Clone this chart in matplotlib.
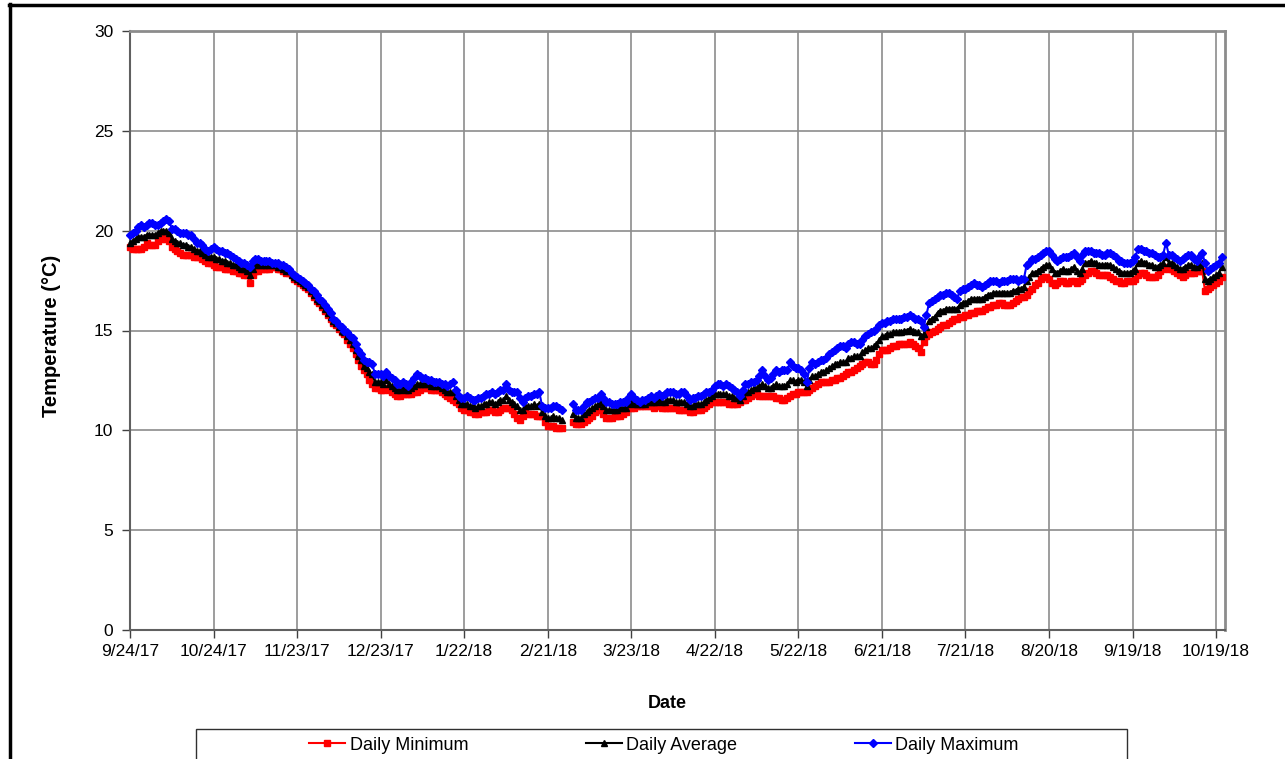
import numpy as np
import matplotlib
matplotlib.use("Agg")
import matplotlib.pyplot as plt
from matplotlib.lines import Line2D
from matplotlib.patches import Rectangle

nan = float("nan")

start_date = "2017-09-24"
tick_labels = ["9/24/17", "10/24/17", "11/23/17", "12/23/17", "1/22/18", "2/21/18",
               "3/23/18", "4/22/18", "5/22/18", "6/21/18", "7/21/18", "8/20/18",
               "9/19/18", "10/19/18"]
y_ticks = [0, 5, 10, 15, 20, 25, 30]

daily_max = [
    19.8, 19.9, 20.0, 20.2, 20.3, 20.2, 20.3, 20.4, 20.4, 20.3,
    20.3, 20.4, 20.5, 20.6, 20.5, 20.1, 20.1, 20.0, 19.9, 19.9,
    19.9, 19.8, 19.8, 19.6, 19.4, 19.4, 19.3, 19.1, 19.0, 19.1,
    19.2, 19.1, 19.0, 19.0, 18.9, 18.9, 18.8, 18.7, 18.6, 18.5,
    18.4, 18.4, 18.3, 18.2, 18.5, 18.6, 18.6, 18.5, 18.5, 18.5,
    18.5, 18.4, 18.4, 18.4, 18.3, 18.3, 18.2, 18.1, 17.9, 17.8,
    17.7, 17.6, 17.5, 17.4, 17.3, 17.1, 17.0, 16.8, 16.6, 16.5,
    16.3, 16.1, 15.9, 15.6, 15.5, 15.3, 15.2, 15.0, 14.9, 14.7,
    14.6, 14.3, 14.0, 13.8, 13.5, 13.4, 13.4, 13.3, 12.8, 12.8,
    12.8, 12.7, 12.9, 12.7, 12.6, 12.5, 12.3, 12.3, 12.4, 12.3,
    12.2, 12.4, 12.6, 12.8, 12.7, 12.6, 12.6, 12.5, 12.5, 12.4,
    12.4, 12.4, 12.3, 12.3, 12.2, 12.3, 12.4, 12.0, 11.7, 11.6,
    11.6, 11.7, 11.6, 11.5, 11.5, 11.6, 11.6, 11.7, 11.8, 11.8,
    11.9, 11.8, 11.9, 12.0, 12.0, 12.3, 12.0, 11.9, 11.9, 11.9,
    11.6, 11.4, 11.6, 11.7, 11.7, 11.8, 11.8, 11.9, 11.2, 11.1,
    11.1, 11.1, 11.2, 11.2, 11.1, 11.0, nan, nan, nan, 11.3,
    11.0, 11.0, 11.0, 11.2, 11.4, 11.4, 11.5, 11.6, 11.6, 11.8,
    11.6, 11.4, 11.4, 11.3, 11.3, 11.3, 11.4, 11.4, 11.4, 11.6,
    11.8, 11.6, 11.5, 11.4, 11.5, 11.5, 11.6, 11.7, 11.6, 11.7,
    11.8, 11.7, 11.8, 11.9, 11.9, 11.9, 11.8, 11.8, 11.9, 11.9,
    11.7, 11.5, 11.6, 11.6, 11.7, 11.7, 11.8, 11.9, 11.9, 12.0,
    12.2, 12.3, 12.3, 12.2, 12.3, 12.2, 12.1, 12.0, 11.9, 11.7,
    12.0, 12.3, 12.3, 12.4, 12.4, 12.5, 12.7, 13.0, 12.7, 12.5,
    12.6, 12.8, 13.0, 12.9, 13.0, 13.0, 13.0, 13.4, 13.2, 13.1,
    13.1, 13.0, 12.8, 12.4, 13.1, 13.4, 13.3, 13.4, 13.5, 13.5,
    13.6, 13.8, 13.9, 14.0, 14.1, 14.2, 14.2, 14.1, 14.3, 14.4,
    14.4, 14.3, 14.3, 14.5, 14.7, 14.8, 14.9, 15.0, 15.1, 15.3,
    15.4, 15.4, 15.5, 15.5, 15.6, 15.6, 15.6, 15.6, 15.7, 15.7,
    15.8, 15.7, 15.6, 15.6, 15.5, 15.2, 15.8, 16.4, 16.5, 16.6,
    16.7, 16.8, 16.8, 16.9, 16.9, 16.8, 16.7, 16.6, 17.0, 17.1,
    17.1, 17.2, 17.3, 17.4, 17.3, 17.3, 17.2, 17.3, 17.4, 17.5,
    17.5, 17.5, 17.4, 17.5, 17.5, 17.5, 17.6, 17.6, 17.6, 17.5,
    17.6, 17.6, 18.3, 18.4, 18.6, 18.6, 18.7, 18.8, 18.9, 19.0,
    19.0, 18.8, 18.6, 18.5, 18.6, 18.7, 18.7, 18.7, 18.8, 18.9,
    18.7, 18.5, 18.8, 19.0, 19.0, 19.0, 18.9, 18.9, 18.9, 18.8,
    18.8, 18.9, 18.9, 18.8, 18.7, 18.5, 18.5, 18.4, 18.4, 18.4,
    18.5, 18.7, 19.1, 19.1, 19.0, 19.0, 18.9, 18.9, 18.8, 18.7,
    18.7, 18.8, 19.4, 18.8, 18.8, 18.7, 18.6, 18.5, 18.6, 18.7,
    18.8, 18.8, 18.6, 18.5, 18.7, 18.9, 18.4, 18.0, 18.1, 18.2,
    18.3, 18.4, 18.7,
]

daily_min = [
    19.2, 19.1, 19.1, 19.1, 19.1, 19.2, 19.4, 19.3, 19.3, 19.3,
    19.5, 19.6, 19.7, 19.6, 19.5, 19.2, 19.1, 19.0, 18.9, 18.8,
    18.8, 18.8, 18.8, 18.7, 18.7, 18.7, 18.6, 18.5, 18.4, 18.4,
    18.3, 18.2, 18.2, 18.2, 18.1, 18.1, 18.1, 18.0, 18.0, 17.9,
    17.9, 17.8, 17.8, 17.4, 17.8, 18.0, 18.0, 18.1, 18.1, 18.1,
    18.1, 18.2, 18.2, 18.1, 18.1, 18.0, 17.9, 17.9, 17.8, 17.6,
    17.5, 17.4, 17.3, 17.2, 17.1, 16.9, 16.7, 16.5, 16.4, 16.2,
    16.0, 15.8, 15.6, 15.4, 15.3, 15.1, 14.9, 14.8, 14.5, 14.3,
    14.1, 13.8, 13.5, 13.2, 13.0, 12.8, 12.5, 12.3, 12.1, 12.1,
    12.0, 12.0, 12.1, 12.0, 11.9, 11.8, 11.7, 11.7, 11.8, 11.8,
    11.8, 11.8, 11.9, 11.9, 12.0, 12.1, 12.1, 12.1, 12.0, 12.0,
    12.0, 12.0, 11.9, 11.8, 11.7, 11.6, 11.5, 11.4, 11.3, 11.1,
    11.0, 11.0, 10.9, 10.9, 10.8, 10.8, 10.9, 10.9, 10.9, 11.0,
    11.0, 10.9, 10.9, 11.0, 11.1, 11.1, 11.1, 11.0, 10.8, 10.6,
    10.5, 10.7, 10.9, 10.8, 10.8, 10.8, 10.7, 10.7, 10.7, 10.4,
    10.2, 10.2, 10.2, 10.1, 10.1, 10.1, nan, nan, nan, 10.4,
    10.3, 10.3, 10.3, 10.4, 10.5, 10.6, 10.7, 10.9, 11.0, 11.0,
    10.8, 10.6, 10.6, 10.6, 10.7, 10.7, 10.7, 10.8, 10.9, 11.1,
    11.1, 11.1, 11.2, 11.2, 11.2, 11.2, 11.2, 11.2, 11.1, 11.2,
    11.2, 11.1, 11.1, 11.1, 11.1, 11.1, 11.1, 11.0, 11.0, 11.0,
    11.0, 10.9, 10.9, 11.0, 11.0, 11.0, 11.1, 11.2, 11.3, 11.4,
    11.4, 11.4, 11.4, 11.4, 11.4, 11.3, 11.3, 11.3, 11.3, 11.4,
    11.5, 11.5, 11.6, 11.7, 11.8, 11.8, 11.7, 11.7, 11.7, 11.7,
    11.7, 11.7, 11.6, 11.6, 11.5, 11.5, 11.6, 11.7, 11.8, 11.8,
    11.9, 11.9, 11.9, 11.9, 12.0, 12.1, 12.2, 12.3, 12.4, 12.4,
    12.4, 12.4, 12.5, 12.5, 12.6, 12.6, 12.7, 12.8, 12.9, 12.9,
    13.0, 13.1, 13.2, 13.3, 13.4, 13.4, 13.3, 13.3, 13.5, 13.8,
    14.0, 14.0, 14.0, 14.1, 14.2, 14.2, 14.3, 14.3, 14.3, 14.3,
    14.4, 14.3, 14.2, 14.1, 13.9, 14.4, 14.7, 14.8, 14.9, 15.0,
    15.1, 15.2, 15.3, 15.3, 15.4, 15.5, 15.6, 15.6, 15.7, 15.7,
    15.8, 15.8, 15.9, 15.9, 16.0, 16.0, 16.0, 16.1, 16.2, 16.2,
    16.3, 16.3, 16.4, 16.4, 16.3, 16.3, 16.3, 16.4, 16.5, 16.6,
    16.7, 16.7, 16.8, 17.0, 17.1, 17.3, 17.4, 17.6, 17.7, 17.7,
    17.6, 17.4, 17.3, 17.4, 17.5, 17.5, 17.4, 17.4, 17.5, 17.5,
    17.4, 17.5, 17.6, 17.8, 17.9, 18.0, 18.0, 17.9, 17.8, 17.8,
    17.8, 17.8, 17.7, 17.6, 17.5, 17.5, 17.4, 17.4, 17.5, 17.5,
    17.5, 17.6, 17.8, 17.9, 17.9, 17.8, 17.7, 17.7, 17.7, 17.8,
    18.0, 18.1, 18.2, 18.1, 18.1, 18.0, 17.9, 17.8, 17.7, 17.8,
    17.9, 17.9, 17.9, 18.0, 18.0, 18.0, 17.0, 17.1, 17.2, 17.3,
    17.4, 17.5, 17.7,
]

daily_avg = [
    19.4, 19.5, 19.6, 19.7, 19.7, 19.7, 19.8, 19.8, 19.8, 19.8,
    19.9, 20.0, 20.0, 20.0, 19.9, 19.6, 19.5, 19.4, 19.4, 19.3,
    19.3, 19.2, 19.2, 19.1, 19.0, 19.0, 18.9, 18.8, 18.7, 18.7,
    18.7, 18.6, 18.6, 18.5, 18.5, 18.4, 18.4, 18.3, 18.3, 18.2,
    18.1, 18.1, 18.0, 17.8, 18.1, 18.3, 18.3, 18.3, 18.3, 18.3,
    18.3, 18.3, 18.3, 18.2, 18.2, 18.1, 18.0, 18.0, 17.8, 17.7,
    17.6, 17.5, 17.4, 17.3, 17.2, 17.0, 16.8, 16.6, 16.5, 16.3,
    16.1, 15.9, 15.7, 15.5, 15.4, 15.2, 15.0, 14.9, 14.7, 14.5,
    14.3, 14.0, 13.7, 13.5, 13.2, 13.1, 12.9, 12.8, 12.4, 12.4,
    12.4, 12.3, 12.5, 12.3, 12.2, 12.1, 12.0, 12.0, 12.1, 12.0,
    12.0, 12.1, 12.2, 12.3, 12.3, 12.3, 12.3, 12.3, 12.2, 12.2,
    12.2, 12.2, 12.1, 12.0, 11.9, 11.9, 11.9, 11.7, 11.5, 11.3,
    11.3, 11.3, 11.2, 11.2, 11.1, 11.2, 11.2, 11.3, 11.3, 11.4,
    11.4, 11.3, 11.4, 11.5, 11.5, 11.7, 11.5, 11.4, 11.3, 11.2,
    11.0, 11.0, 11.2, 11.2, 11.2, 11.3, 11.2, 11.3, 10.9, 10.7,
    10.6, 10.6, 10.7, 10.6, 10.6, 10.5, nan, nan, nan, 10.8,
    10.6, 10.6, 10.6, 10.8, 10.9, 11.0, 11.1, 11.2, 11.3, 11.4,
    11.2, 11.0, 11.0, 11.0, 11.0, 11.0, 11.1, 11.1, 11.1, 11.3,
    11.4, 11.3, 11.3, 11.3, 11.3, 11.3, 11.4, 11.4, 11.4, 11.4,
    11.5, 11.4, 11.4, 11.5, 11.5, 11.5, 11.4, 11.4, 11.4, 11.4,
    11.3, 11.2, 11.2, 11.3, 11.3, 11.3, 11.4, 11.5, 11.6, 11.7,
    11.8, 11.8, 11.8, 11.8, 11.8, 11.7, 11.7, 11.6, 11.6, 11.5,
    11.7, 11.9, 11.9, 12.0, 12.1, 12.1, 12.2, 12.3, 12.2, 12.1,
    12.1, 12.2, 12.3, 12.2, 12.2, 12.2, 12.3, 12.5, 12.5, 12.4,
    12.5, 12.5, 12.4, 12.2, 12.5, 12.7, 12.7, 12.8, 12.9, 12.9,
    13.0, 13.1, 13.2, 13.3, 13.3, 13.4, 13.4, 13.4, 13.6, 13.6,
    13.7, 13.7, 13.7, 13.9, 14.0, 14.1, 14.1, 14.2, 14.3, 14.5,
    14.7, 14.7, 14.8, 14.8, 14.9, 14.9, 14.9, 14.9, 15.0, 15.0,
    15.1, 15.0, 14.9, 14.9, 14.7, 14.8, 15.2, 15.5, 15.6, 15.7,
    15.9, 16.0, 16.0, 16.1, 16.1, 16.1, 16.1, 16.1, 16.3, 16.4,
    16.4, 16.5, 16.6, 16.6, 16.6, 16.6, 16.6, 16.7, 16.8, 16.8,
    16.9, 16.9, 16.9, 16.9, 16.9, 16.9, 16.9, 17.0, 17.0, 17.1,
    17.1, 17.2, 17.5, 17.7, 17.9, 17.9, 18.0, 18.1, 18.2, 18.3,
    18.3, 18.1, 17.9, 17.9, 18.0, 18.1, 18.0, 18.0, 18.1, 18.2,
    18.0, 17.9, 18.1, 18.4, 18.4, 18.5, 18.4, 18.4, 18.3, 18.3,
    18.3, 18.3, 18.3, 18.2, 18.1, 18.0, 17.9, 17.9, 17.9, 17.9,
    18.0, 18.1, 18.4, 18.5, 18.4, 18.4, 18.3, 18.3, 18.2, 18.2,
    18.3, 18.4, 18.7, 18.4, 18.4, 18.3, 18.2, 18.1, 18.1, 18.2,
    18.3, 18.3, 18.2, 18.2, 18.3, 18.4, 17.6, 17.5, 17.6, 17.7,
    17.8, 17.9, 18.2,
]

plt.rcParams["font.family"] = ["Liberation Sans", "DejaVu Sans"]

W, H = 1285, 759
fig = plt.figure(figsize=(W / 100, H / 100), dpi=100)
ax = fig.add_axes([130 / W, (H - 630) / H, (1225 - 130) / W, (630 - 31) / H])

n = len(daily_avg)
dates = np.datetime64(start_date) + np.arange(n).astype("timedelta64[D]")
tick_dates = np.datetime64(start_date) + (30 * np.arange(len(tick_labels))).astype("timedelta64[D]")

l_min, = ax.plot(dates, daily_min, color="#ff0000", lw=1.5, marker="s", ms=4.5,
                 mec="#ff0000", mfc="#ff0000", label="Daily Minimum", clip_on=False, zorder=3)
l_avg, = ax.plot(dates, daily_avg, color="#000000", lw=1.5, marker="^", ms=5,
                 mec="#000000", mfc="#000000", label="Daily Average", clip_on=False, zorder=4)
l_max, = ax.plot(dates, daily_max, color="#0000ff", lw=1.5, marker="D", ms=4,
                 mec="#0000ff", mfc="#0000ff", label="Daily Maximum", clip_on=False, zorder=5)

ax.set_xlim(np.datetime64(start_date), np.datetime64(start_date) + np.timedelta64(393, "D") + np.timedelta64(5, "h"))
ax.set_ylim(0, 30)
ax.set_xticks(tick_dates)
ax.set_xticklabels(tick_labels)
ax.set_yticks(y_ticks)
ax.set_yticklabels([str(v) for v in y_ticks])
ax.grid(True, color="#8c8c8c", lw=1.2)
ax.set_axisbelow(True)
for side in ["top", "right"]:
    ax.spines[side].set_color("#8c8c8c")
    ax.spines[side].set_linewidth(2)
for side in ["left", "bottom"]:
    ax.spines[side].set_color("#606060")
    ax.spines[side].set_linewidth(1.5)
ax.tick_params(axis="both", direction="out", length=6, width=1, color="#404040",
               labelsize=12.5, labelcolor="black")
ax.tick_params(axis="x", pad=4)
ax.tick_params(axis="y", pad=6)

fig.text(52 / W, 1 - 336 / H, "Temperature (°C)", rotation=90, ha="center", va="center",
         fontsize=14.5, fontweight="bold")
fig.text(667 / W, 1 - 703 / H, "Date", ha="center", va="center",
         fontsize=13, fontweight="bold")

# legend box and entries
fig.add_artist(Rectangle((196 / W, -0.05), (1127 - 196) / W, (H - 729) / H + 0.05,
                         transform=fig.transFigure, fill=False, edgecolor="#303030", lw=1))
fig.legend(handles=[l_min, l_avg, l_max], loc="center", bbox_to_anchor=(664 / W, 1 - 745 / H),
           ncol=3, frameon=False, fontsize=13, columnspacing=6.5, handlelength=2.0,
           handletextpad=0.25, markerscale=1.0)

# outer figure border (top and left visible)
fig.add_artist(Line2D([9 / W, 1.01], [1 - 5 / H, 1 - 5 / H], transform=fig.transFigure,
                      color="black", lw=2.5))
fig.add_artist(Line2D([10 / W, 10 / W], [1 - 4 / H, -0.01], transform=fig.transFigure,
                      color="black", lw=2.5))

fig.savefig("out.png", dpi=100)
